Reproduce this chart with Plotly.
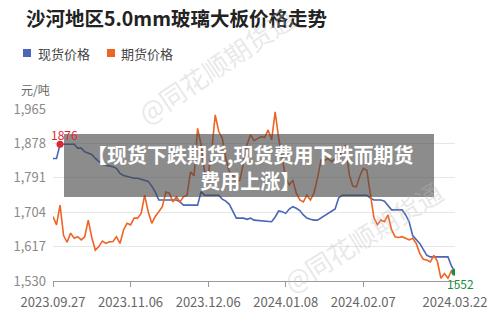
import plotly.graph_objects as go
import pandas as pd

# ---- data ----
holidays = ["2023-09-29", "2023-10-02", "2023-10-03", "2023-10-04", "2023-10-05", "2023-10-06",
            "2024-01-01", "2024-02-09", "2024-02-12", "2024-02-13", "2024-02-14", "2024-02-15", "2024-02-16"]
dates = [d.strftime("%Y.%m.%d") for d in pd.bdate_range("2023-09-27", "2024-03-22")
         if d.strftime("%Y-%m-%d") not in holidays]

spot = [1840, 1840, 1876, 1876, 1876, 1876, 1876, 1866, 1866, 1857,
        1854, 1850, 1840, 1832, 1825, 1823, 1821, 1819, 1815, 1802,
        1797, 1794, 1792, 1790, 1790, 1787, 1785, 1782, 1770, 1755,
        1735, 1735, 1735, 1735, 1735, 1735, 1730, 1722, 1722, 1722,
        1722, 1722, 1756, 1747, 1747, 1747, 1747, 1747, 1737, 1732,
        1724, 1705, 1689, 1689, 1689, 1686, 1689, 1684, 1683, 1682,
        1681, 1680, 1680, 1692, 1707, 1705, 1701, 1712, 1718, 1714,
        1708, 1697, 1689, 1686, 1684, 1684, 1690, 1696, 1702, 1708,
        1712, 1740, 1747, 1747, 1747, 1747, 1747, 1747, 1747, 1747,
        1740, 1735, 1735, 1735, 1732, 1722, 1710, 1710, 1710, 1710,
        1697, 1680, 1645, 1635, 1625, 1610, 1595, 1591, 1591, 1591,
        1591, 1591, 1591, 1568, 1552]

futures = [1693, 1672, 1722, 1645, 1628, 1651, 1638, 1642, 1634, 1642,
           1684, 1640, 1608, 1617, 1631, 1625, 1629, 1630, 1642, 1625,
           1659, 1676, 1672, 1689, 1689, 1701, 1747, 1705, 1676, 1693,
           1705, 1718, 1755, 1752, 1730, 1743, 1730, 1743, 1747, 1806,
           1796, 1916, 1874, 1806, 1798, 1857, 1950, 1908, 1891, 1840,
           1806, 1798, 1781, 1785, 1828, 1874, 1900, 1885, 1890, 1895,
           1893, 1912, 1887, 1958, 1891, 1845, 1790, 1773, 1785, 1752,
           1735, 1730, 1747, 1735, 1752, 1790, 1836, 1835, 1840, 1832,
           1840, 1845, 1857, 1874, 1800, 1770, 1768, 1795, 1815, 1810,
           1745, 1690, 1672, 1684, 1680, 1697, 1660, 1642, 1640, 1642,
           1638, 1634, 1638, 1625, 1600, 1585, 1583, 1578, 1595, 1580,
           1537, 1549, 1537, 1556, 1545]

tick_labels = ["2023.09.27", "2023.11.06", "2023.12.06", "2024.01.08", "2024.02.07", "2024.03.22"]
y_ticks = [1530, 1617, 1704, 1791, 1878, 1965]
series_names = ["现货价格", "期货价格"]
title_text = "沙河地区5.0mm玻璃大板价格走势"
overlay_text = "【现货下跌期货,现货费用下跌而期货<br>费用上涨】"
watermark = "@同花顺期货通"

# ---- style ----
W, H = 500, 332
ML, MR, MT, MB = 53, 45, 109, 51
BLUE = "#4a66b4"
ORANGE = "#ee6424"
FONT = "Noto Sans CJK SC"

def px(x):
    return (x - ML) / (W - ML - MR)

def py(y):
    return (H - MB - y) / (H - MT - MB)

fig = go.Figure()
fig.add_trace(go.Scatter(x=dates, y=spot, mode="lines", name=series_names[0],
                         line=dict(color=BLUE, width=1.6), showlegend=False))
fig.add_trace(go.Scatter(x=dates, y=futures, mode="lines", name=series_names[1],
                         line=dict(color=ORANGE, width=1.6), showlegend=False))

# max / min mark points for spot
imax = spot.index(max(spot))
imin = len(spot) - 1 - spot[::-1].index(min(spot))
fig.add_trace(go.Scatter(x=[dates[imax]], y=[spot[imax]], mode="markers",
                         marker=dict(color="#e0262e", size=7), showlegend=False))
fig.add_trace(go.Scatter(x=[dates[imin]], y=[spot[imin]], mode="markers",
                         marker=dict(color="#17903a", size=7), showlegend=False))

annotations = [
    dict(x=dates[imax], y=spot[imax], xref="x", yref="y", text=str(spot[imax]),
         showarrow=False, xshift=4, yshift=10, font=dict(color="#e0262e", size=12, family=FONT)),
    dict(x=dates[imin], y=spot[imin], xref="x", yref="y", text=str(spot[imin]),
         showarrow=False, xshift=5, yshift=-11, font=dict(color="#17903a", size=12, family=FONT)),
    dict(x=px(24), y=py(18), xref="paper", yref="paper", xanchor="left", yanchor="middle",
         text="<b>" + title_text + "</b>", showarrow=False,
         font=dict(size=19.5, color="#222222", family=FONT)),
    dict(x=px(36), y=py(53), xref="paper", yref="paper", xanchor="left", yanchor="middle",
         text=series_names[0], showarrow=False, font=dict(size=13, color="#444444", family=FONT)),
    dict(x=px(119), y=py(53), xref="paper", yref="paper", xanchor="left", yanchor="middle",
         text=series_names[1], showarrow=False, font=dict(size=13, color="#444444", family=FONT)),
    dict(x=px(19), y=py(89), xref="paper", yref="paper", xanchor="left", yanchor="middle",
         text="元/吨", showarrow=False, font=dict(size=12, color="#666666", family=FONT)),
    dict(x=px(215), y=py(65), xref="paper", yref="paper", xanchor="center", yanchor="middle",
         text=watermark, textangle=-34, showarrow=False,
         font=dict(size=26, color="rgba(190,190,190,0.35)", family=FONT)),
    dict(x=px(362), y=py(236), xref="paper", yref="paper", xanchor="center", yanchor="middle",
         text=watermark, textangle=-32, showarrow=False,
         font=dict(size=26, color="rgba(190,190,190,0.35)", family=FONT)),
    dict(x=px(250), y=py(167), xref="paper", yref="paper", xanchor="center", yanchor="middle",
         text="<b>" + overlay_text + "</b>", showarrow=False, align="center",
         font=dict(size=20, color="#ffffff", family=FONT)),
]

shapes = [
    dict(type="rect", xref="paper", yref="paper", x0=px(23), x1=px(31), y0=py(49), y1=py(57),
         fillcolor=BLUE, line=dict(width=0)),
    dict(type="rect", xref="paper", yref="paper", x0=px(107), x1=px(115), y0=py(49), y1=py(57),
         fillcolor=ORANGE, line=dict(width=0)),
    dict(type="rect", xref="paper", yref="paper", x0=px(64), x1=px(434), y0=py(134), y1=py(197),
         fillcolor="rgba(70,70,70,0.62)", line=dict(width=0), layer="above"),
]

fig.update_layout(
    width=W, height=H,
    margin=dict(l=ML, r=MR, t=MT, b=MB),
    paper_bgcolor="white", plot_bgcolor="white",
    font=dict(family=FONT),
    annotations=annotations, shapes=shapes,
    xaxis=dict(type="category", range=[0, len(dates) - 1], tickvals=tick_labels, ticktext=tick_labels,
               showgrid=False, showline=True, linecolor="#9a9a9a", linewidth=1,
               ticks="outside", ticklen=5, tickcolor="#9a9a9a", ticklabelstandoff=4,
               tickfont=dict(size=13, color="#666666", family=FONT), zeroline=False),
    yaxis=dict(range=[1530, 1965], tickvals=y_ticks, tickformat=",",
               showgrid=True, gridcolor="#e6e6e6", gridwidth=1, showline=False, zeroline=False,
               ticks="", ticklabelstandoff=6,
               tickfont=dict(size=13, color="#8a8a8a", family=FONT)),
)

fig.write_html("out.html")
